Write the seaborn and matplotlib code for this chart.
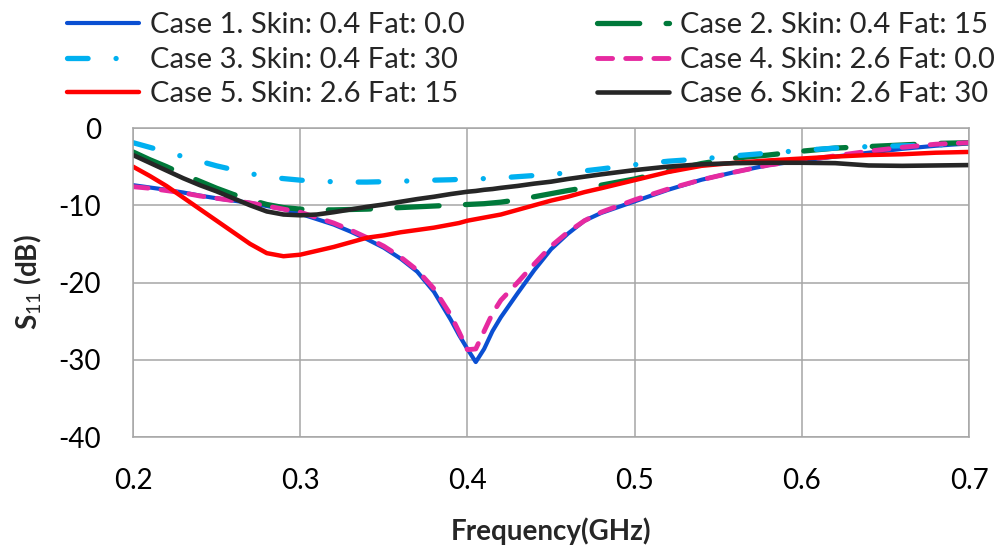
import numpy as np
import pandas as pd
import matplotlib
matplotlib.use("Agg")
import matplotlib.pyplot as plt
from matplotlib.lines import Line2D
import seaborn as sns

# ---------------- data ----------------
freq = [0.20, 0.21, 0.22, 0.23, 0.24, 0.25, 0.26, 0.27, 0.28, 0.29,
        0.30, 0.31, 0.32, 0.33, 0.34, 0.35, 0.36, 0.37, 0.38, 0.39,
        0.395, 0.40, 0.405, 0.41, 0.415, 0.42,
        0.43, 0.44, 0.45, 0.46, 0.47, 0.48,
        0.50, 0.52, 0.54, 0.56, 0.58, 0.60, 0.62, 0.64, 0.66, 0.68, 0.70]

case1 = [-7.4, -7.7, -8.0, -8.35, -8.75, -9.1, -9.4, -9.7, -10.1, -10.5,
         -11.1, -11.8, -12.5, -13.4, -14.4, -15.5, -16.9, -18.6, -21.2, -24.8,
         -26.8, -28.6, -30.3, -28.6, -26.3, -24.5,
         -21.4, -18.4, -15.7, -13.7, -12.0, -11.0,
         -9.5, -8.0, -6.7, -5.7, -4.8, -4.2, -3.7, -3.2, -2.7, -2.3, -2.0]
case2 = [-3.1, -4.1, -5.0, -6.0, -6.9, -7.8, -8.6, -9.3, -9.9, -10.3,
         -10.5, -10.6, -10.6, -10.55, -10.5, -10.4, -10.3, -10.2, -10.1, -10.0,
         -9.95, -9.9, -9.85, -9.8, -9.7, -9.6,
         -9.3, -8.9, -8.5, -8.1, -7.75, -7.4,
         -6.6, -5.6, -4.6, -3.9, -3.5, -3.0, -2.6, -2.4, -2.2, -2.0, -1.9]
case3 = [-1.9, -2.5, -3.1, -3.7, -4.3, -4.9, -5.4, -5.9, -6.3, -6.55,
         -6.75, -6.9, -6.95, -7.0, -7.0, -6.95, -6.9, -6.8, -6.75, -6.7,
         -6.65, -6.6, -6.6, -6.55, -6.5, -6.45,
         -6.3, -6.15, -6.0, -5.8, -5.55, -5.3,
         -4.75, -4.3, -4.0, -3.6, -3.25, -2.9, -2.6, -2.4, -2.3, -2.2, -2.1]
case4 = [-7.6, -7.8, -8.1, -8.4, -8.8, -9.1, -9.4, -9.7, -10.1, -10.5,
         -10.9, -11.6, -12.3, -13.2, -14.2, -15.3, -16.7, -18.4, -20.8, -24.2,
         -26.4, -28.7, -28.6, -26.3, -24.0, -22.3,
         -20.0, -17.6, -15.3, -13.5, -12.0, -10.9,
         -9.3, -7.9, -6.7, -5.7, -4.8, -4.2, -3.6, -3.0, -2.5, -2.1, -1.9]
case5 = [-5.0, -6.2, -7.5, -9.0, -10.5, -12.0, -13.5, -15.0, -16.2, -16.6,
         -16.4, -15.9, -15.4, -14.8, -14.2, -13.9, -13.5, -13.2, -12.9, -12.5,
         -12.3, -12.0, -11.8, -11.6, -11.4, -11.2,
         -10.6, -10.0, -9.4, -8.9, -8.3, -7.8,
         -6.75, -5.7, -4.9, -4.5, -4.2, -3.95, -3.7, -3.5, -3.4, -3.2, -3.1]
case6 = [-3.5, -4.5, -5.5, -6.5, -7.4, -8.2, -9.1, -10.0, -10.8, -11.2,
         -11.3, -11.2, -10.9, -10.55, -10.2, -9.9, -9.55, -9.2, -8.9, -8.55,
         -8.4, -8.25, -8.15, -8.0, -7.9, -7.75,
         -7.5, -7.2, -6.95, -6.6, -6.3, -6.0,
         -5.45, -5.0, -4.7, -4.55, -4.5, -4.5, -4.55, -4.85, -4.9, -4.85, -4.8]

labels = ["Case 1. Skin: 0.4 Fat: 0.0", "Case 2. Skin: 0.4 Fat: 15",
          "Case 3. Skin: 0.4 Fat: 30", "Case 4. Skin: 2.6 Fat: 0.0",
          "Case 5. Skin: 2.6 Fat: 15", "Case 6. Skin: 2.6 Fat: 30"]
series = [case1, case2, case3, case4, case5, case6]

xticks = [0.2, 0.3, 0.4, 0.5, 0.6, 0.7]
yticks = [-40, -30, -20, -10, 0]

# ---------------- styles ----------------
colors = ["#0A4FD2", "#00793A", "#00B0F0", "#E62AA0", "#FF0000", "#262626"]
widths = [3.0, 3.8, 3.8, 3.5, 3.2, 3.3]
styles = ["solid", (0, (8, 5)), (0, (3.9, 5.3, 0.01, 5.3)), (0, (3.1, 2.7)), "solid", "solid"]

sns.set_theme(style="white")
plt.rcParams["font.family"] = ["Lato", "DejaVu Sans"]
plt.rcParams["axes.unicode_minus"] = False
plt.rcParams["mathtext.fontset"] = "custom"
plt.rcParams["mathtext.rm"] = "Lato"
plt.rcParams["mathtext.bf"] = "Lato:bold"

W, H = 997, 550
fig = plt.figure(figsize=(W / 100, H / 100), dpi=100)
L, R, T, B = 133, 969, 128, 437
ax = fig.add_axes([L / W, 1 - B / H, (R - L) / W, (B - T) / H])

df = pd.DataFrame({"freq": freq})
handles = []
for lab, vals, c, lw, ls in zip(labels, series, colors, widths, styles):
    df[lab] = vals
    sns.lineplot(data=df, x="freq", y=lab, ax=ax, color=c, lw=lw, linestyle=ls,
                 errorbar=None, dash_capstyle="round", solid_capstyle="round",
                 solid_joinstyle="round")
    handles.append(Line2D([], [], color=c, lw=lw, linestyle=ls,
                          dash_capstyle="round", solid_capstyle="round"))

ax.set_xlim(0.2, 0.7)
ax.set_ylim(-40, 0)
ax.set_xticks(xticks)
ax.set_xticklabels([f"{t:.1f}" for t in xticks])
ax.set_yticks(yticks)
ax.set_yticklabels([f"{t:d}" for t in yticks])
ax.grid(True, color="#A6A6A6", lw=1.1)
for s in ax.spines.values():
    s.set_color("#A6A6A6")
    s.set_linewidth(1.1)
ax.tick_params(axis="both", length=0, labelsize=20, colors="black")
ax.tick_params(axis="x", pad=22)
ax.tick_params(axis="y", pad=23)
ax.set_xlabel("")
ax.set_ylabel("")

fig.text(551 / W, 1 - 540 / H, "Frequency(GHz)", ha="center", va="baseline",
         fontsize=20, fontweight="bold")
fig.text(28 / W, 1 - 282 / H, r"S$_{\mathrm{11}}$ (dB)", ha="center", va="center",
         rotation=90, fontsize=20, fontweight="bold")

legkw = dict(loc="upper left", frameon=False, fontsize=21, borderpad=0,
             borderaxespad=0, handlelength=2.47, handletextpad=0.36, labelspacing=0.30)
leg1 = fig.legend([handles[0], handles[2], handles[4]], [labels[0], labels[2], labels[4]],
                  bbox_to_anchor=(67 / W, 1 - 12 / H), **legkw)
leg2 = fig.legend([handles[1], handles[3], handles[5]], [labels[1], labels[3], labels[5]],
                  bbox_to_anchor=(597 / W, 1 - 12 / H), **legkw)

fig.savefig("out.png", dpi=100)
